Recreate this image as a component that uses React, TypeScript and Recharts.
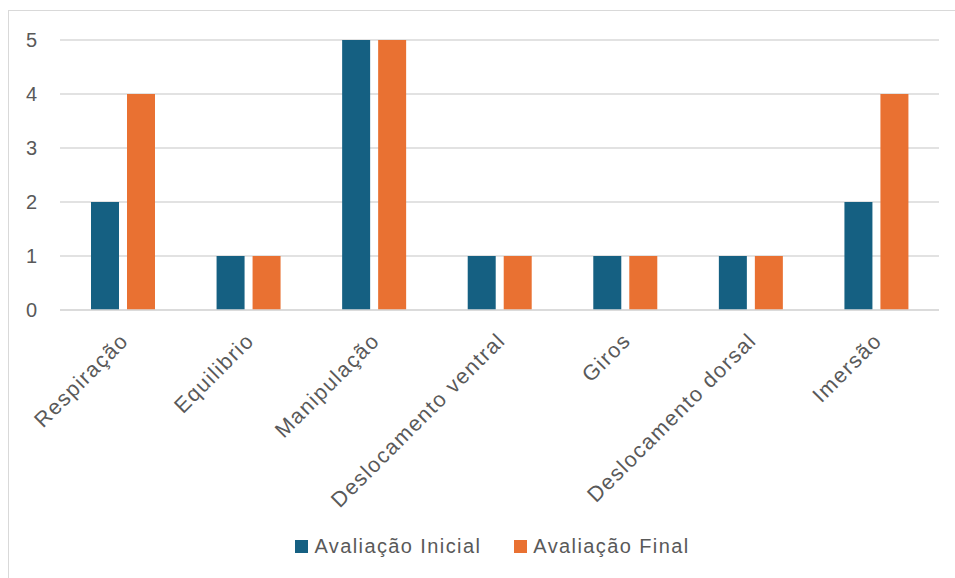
import { BarChart, Bar, XAxis, YAxis, CartesianGrid, Legend } from "recharts";

const categories = [
  "Respiração",
  "Equilibrio",
  "Manipulação",
  "Deslocamento ventral",
  "Giros",
  "Deslocamento dorsal",
  "Imersão",
];
const inicial = [2, 1, 5, 1, 1, 1, 2];
const final = [4, 1, 5, 1, 1, 1, 4];
const yTicks = [0, 1, 2, 3, 4, 5];

const BLUE = "#156082";
const ORANGE = "#E97132";
const TEXT = "#595959";
const GRID = "#d9d9d9";
const FONT = "'Liberation Sans', Arial, sans-serif";

const data = categories.map((name, i) => ({
  name,
  inicial: inicial[i],
  final: final[i],
}));

function AngledTick({ x, y, payload }: any) {
  return (
    <g transform={`translate(${x + 7},${y + 24})`}>
      <text
        textAnchor="end"
        transform="rotate(-45)"
        fill={TEXT}
        fontSize={21.5}
        letterSpacing={1.4}
        fontFamily={FONT}
      >
        {payload.value}
      </text>
    </g>
  );
}

function LegendContent() {
  const items = [
    { label: "Avaliação Inicial", color: BLUE },
    { label: "Avaliação Final", color: ORANGE },
  ];
  return (
    <div
      style={{
        height: 26,
        paddingLeft: 37,
        display: "flex",
        justifyContent: "center",
        alignItems: "center",
        gap: 33,
        fontFamily: FONT,
        fontSize: 20,
        letterSpacing: 1.4,
        color: TEXT,
      }}
    >
      {items.map((it) => (
        <div key={it.label} style={{ display: "flex", alignItems: "center" }}>
          <span
            style={{
              width: 13,
              height: 13,
              background: it.color,
              display: "inline-block",
              marginRight: 6,
            }}
          />
          <span>{it.label}</span>
        </div>
      ))}
    </div>
  );
}

export default function App() {
  return (
    <div
      style={{
        position: "fixed",
        left: 0,
        top: 0,
        width: 955,
        height: 578,
        overflow: "hidden",
        background: "#fff",
      }}
    >
      <div
        style={{
          position: "absolute",
          left: 8,
          top: 10,
          width: 967,
          height: 580,
          border: `1px solid ${GRID}`,
        }}
      >
        <BarChart
          width={967}
          height={568}
          data={data}
          margin={{ top: 29, right: 37, bottom: 20, left: 0 }}
          barSize={28}
          barGap={8}
        >
          <CartesianGrid vertical={false} stroke={GRID} strokeWidth={1.5} />
          <XAxis
            dataKey="name"
            interval={0}
            height={223}
            tickLine={false}
            axisLine={{ stroke: GRID, strokeWidth: 1.5 }}
            tick={<AngledTick />}
          />
          <YAxis
            width={51}
            domain={[0, 5]}
            ticks={yTicks}
            axisLine={false}
            tickLine={false}
            tickMargin={17}
            tick={{ fill: TEXT, fontSize: 20, fontFamily: FONT }}
          />
          <Legend verticalAlign="bottom" content={<LegendContent />} />
          <Bar dataKey="inicial" name="Avaliação Inicial" fill={BLUE} isAnimationActive={false} />
          <Bar dataKey="final" name="Avaliação Final" fill={ORANGE} isAnimationActive={false} />
        </BarChart>
      </div>
    </div>
  );
}
